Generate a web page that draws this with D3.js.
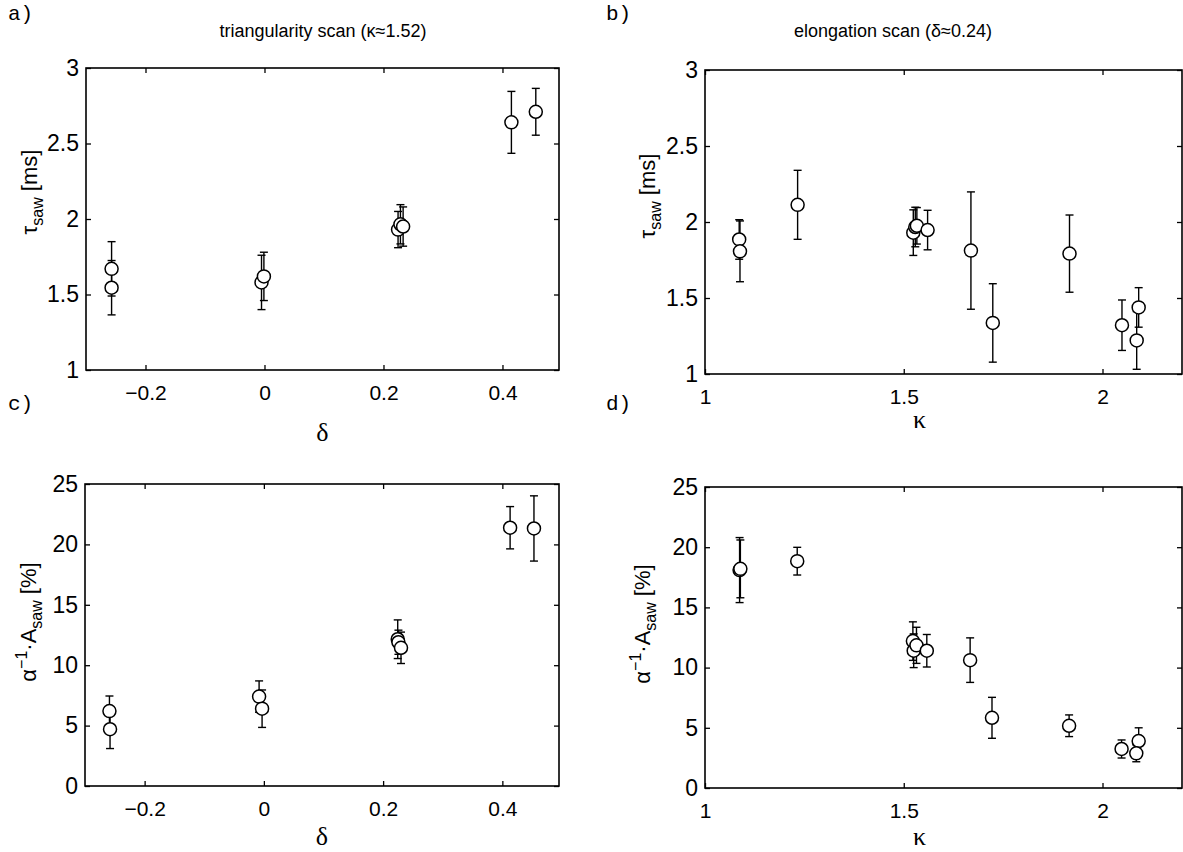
<!DOCTYPE html>
<html>
<head>
<meta charset="utf-8">
<script src="https://cdn.jsdelivr.net/npm/d3@7"></script>
<style>
  body { margin: 0; background: #fff; }
  svg text { fill: #000; }
</style>
</head>
<body>
<svg id="fig" width="1183" height="852"></svg>
<script>
// a) triangularity scan, sawtooth period
const aDelta   = [-0.257, -0.257, -0.005, -0.001, 0.2245, 0.2285, 0.233, 0.415, 0.456];
const aTau     = [1.67, 1.545, 1.58, 1.62, 1.93, 1.965, 1.95, 2.64, 2.71];
const aTauErr  = [0.18, 0.18, 0.18, 0.16, 0.12, 0.13, 0.13, 0.205, 0.155];

// b) elongation scan, sawtooth period
const bKappa   = [1.086, 1.088, 1.233, 1.524, 1.529, 1.533, 1.56, 1.669, 1.724, 1.917, 2.049, 2.091, 2.086];
const bTau     = [1.885, 1.807, 2.113, 1.93, 1.967, 1.975, 1.947, 1.812, 1.336, 1.792, 1.321, 1.438, 1.221];
const bTauErr  = [0.13, 0.2, 0.227, 0.15, 0.13, 0.12, 0.13, 0.386, 0.258, 0.254, 0.166, 0.13, 0.19];

// c) triangularity scan, sawtooth amplitude
const cDelta   = [-0.259, -0.258, -0.008, -0.003, 0.2245, 0.2257, 0.23, 0.413, 0.453];
const cAmp     = [6.2, 4.7, 7.4, 6.4, 12.15, 11.9, 11.44, 21.38, 21.32];
const cAmpErr  = [1.25, 1.6, 1.3, 1.55, 1.6, 1.0, 1.3, 1.75, 2.7];

// d) elongation scan, sawtooth amplitude
const dKappa   = [1.087, 1.089, 1.232, 1.523, 1.525, 1.532, 1.558, 1.667, 1.722, 1.916, 2.048, 2.091, 2.085];
const dAmp     = [18.1, 18.2, 18.84, 12.2, 11.4, 11.85, 11.4, 10.62, 5.83, 5.17, 3.24, 3.9, 2.88];
const dAmpErr  = [2.7, 2.4, 1.15, 1.6, 1.4, 1.5, 1.35, 1.85, 1.7, 0.9, 0.75, 1.1, 0.7];

// tick values
const deltaTicks = [-0.2, 0, 0.2, 0.4];
const kappaTicks = [1, 1.5, 2];
const tauTicks   = [1, 1.5, 2, 2.5, 3];
const ampTicks   = [0, 5, 10, 15, 20, 25];

const svg = d3.select("#fig");
const tickFont = "Liberation Sans, Arial, Helvetica, sans-serif";

function fmtTick(d) {
    return String(d).replace("-", "\u2212");
}

function drawPanel(p) {
    const x = d3.scaleLinear().domain(p.xDomain).range([p.left, p.right]);
    const y = d3.scaleLinear().domain(p.yDomain).range([p.bottom, p.top]);
    const g = svg.append("g");

    // inward ticks on all four sides, MATLAB style
    const xb = g.append("g").attr("transform", `translate(0,${p.bottom})`)
        .call(d3.axisBottom(x).tickValues(p.xTicks).tickSizeInner(-5).tickSizeOuter(0).tickPadding(15).tickFormat(fmtTick));
    const xt = g.append("g").attr("transform", `translate(0,${p.top})`)
        .call(d3.axisTop(x).tickValues(p.xTicks).tickSizeInner(-5).tickSizeOuter(0).tickFormat(""));
    const yl = g.append("g").attr("transform", `translate(${p.left},0)`)
        .call(d3.axisLeft(y).tickValues(p.yTicks).tickSizeInner(-5).tickSizeOuter(0).tickPadding(7).tickFormat(fmtTick));
    const yr = g.append("g").attr("transform", `translate(${p.right},0)`)
        .call(d3.axisRight(y).tickValues(p.yTicks).tickSizeInner(-5).tickSizeOuter(0).tickFormat(""));

    [xb, xt, yl, yr].forEach(a => {
        a.select(".domain").remove();
        a.selectAll("line").attr("stroke", "#000").attr("stroke-width", 1.3);
        a.selectAll("text").attr("font-family", tickFont).attr("fill", "#000");
    });
    xb.selectAll("text").attr("font-size", 21);
    yl.selectAll("text").attr("font-size", 23);

    g.append("rect")
        .attr("x", p.left).attr("y", p.top)
        .attr("width", p.right - p.left).attr("height", p.bottom - p.top)
        .attr("fill", "none").attr("stroke", "#000").attr("stroke-width", 1.6);

    const data = p.xs.map((v, i) => ({x: v, y: p.ys[i], e: p.errs[i]}));

    const bars = g.append("g").selectAll("g").data(data).enter().append("g")
        .attr("stroke", "#000").attr("stroke-width", 1.4);
    bars.append("line")
        .attr("x1", d => x(d.x)).attr("x2", d => x(d.x))
        .attr("y1", d => y(d.y - d.e)).attr("y2", d => y(d.y + d.e));
    bars.append("line")
        .attr("x1", d => x(d.x) - 4).attr("x2", d => x(d.x) + 4)
        .attr("y1", d => y(d.y + d.e)).attr("y2", d => y(d.y + d.e));
    bars.append("line")
        .attr("x1", d => x(d.x) - 4).attr("x2", d => x(d.x) + 4)
        .attr("y1", d => y(d.y - d.e)).attr("y2", d => y(d.y - d.e));

    g.append("g").selectAll("circle").data(data).enter().append("circle")
        .attr("cx", d => x(d.x)).attr("cy", d => y(d.y)).attr("r", 6.5)
        .attr("fill", "#fff").attr("stroke", "#000").attr("stroke-width", 1.5);

    // panel letter
    svg.append("text").attr("x", p.letterX).attr("y", p.letterY)
        .attr("font-family", "Liberation Mono, Courier New, monospace").attr("font-size", 21)
        .text(p.letter);

    // x label
    svg.append("text").attr("x", (p.left + p.right) / 2 - p.xLabelShift).attr("y", p.xLabelY)
        .attr("text-anchor", "middle")
        .attr("font-family", "Liberation Serif, Times New Roman, serif").attr("font-size", 26)
        .text(p.xLabel);

    // y label
    const yt = svg.append("text")
        .attr("transform", `translate(${p.yLabelX},${p.yLabelY}) rotate(-90)`)
        .attr("text-anchor", "middle")
        .attr("font-family", tickFont).attr("font-size", 22);
    p.yLabel(yt);

    if (p.title) {
        svg.append("text").attr("x", p.titleX).attr("y", 37)
            .attr("text-anchor", "middle")
            .attr("font-family", tickFont).attr("font-size", 18)
            .text(p.title);
    }
}

function tauLabel(t) {
    t.append("tspan").text("\u03c4");
    t.append("tspan").attr("font-size", 16).attr("dy", 6).text("saw");
    t.append("tspan").attr("dy", -6).text(" [ms]");
}

function ampLabel(t) {
    t.append("tspan").text("\u03b1");
    t.append("tspan").attr("font-size", 16).attr("dy", -9).text("\u22121");
    t.append("tspan").attr("dy", 9).text("\u00b7A");
    t.append("tspan").attr("font-size", 16).attr("dy", 6).text("saw");
    t.append("tspan").attr("dy", -6).text(" [%]");
}

drawPanel({
    left: 86, right: 559, top: 68, bottom: 370,
    xDomain: [-0.3, 0.495], yDomain: [1, 3],
    xTicks: deltaTicks, yTicks: tauTicks,
    xs: aDelta, ys: aTau, errs: aTauErr,
    letter: "a)", letterX: 8, letterY: 20,
    title: "triangularity scan (\u03ba\u22481.52)", titleX: 323,
    xLabel: "\u03b4", xLabelY: 441, xLabelShift: 0,
    yLabelX: 37, yLabelY: 192, yLabel: tauLabel
});

drawPanel({
    left: 705, right: 1182, top: 70, bottom: 374,
    xDomain: [1, 2.2], yDomain: [1, 3],
    xTicks: kappaTicks, yTicks: tauTicks,
    xs: bKappa, ys: bTau, errs: bTauErr,
    letter: "b)", letterX: 606, letterY: 20,
    title: "elongation scan (\u03b4\u22480.24)", titleX: 893,
    xLabel: "\u03ba", xLabelY: 428, xLabelShift: 24,
    yLabelX: 655, yLabelY: 196, yLabel: tauLabel
});

drawPanel({
    left: 85, right: 559, top: 484, bottom: 786,
    xDomain: [-0.3, 0.495], yDomain: [0, 25],
    xTicks: deltaTicks, yTicks: ampTicks,
    xs: cDelta, ys: cAmp, errs: cAmpErr,
    letter: "c)", letterX: 8, letterY: 410,
    title: null,
    xLabel: "\u03b4", xLabelY: 845, xLabelShift: 0,
    yLabelX: 36, yLabelY: 622, yLabel: ampLabel
});

drawPanel({
    left: 705, right: 1182, top: 487, bottom: 788,
    xDomain: [1, 2.2], yDomain: [0, 25],
    xTicks: kappaTicks, yTicks: ampTicks,
    xs: dKappa, ys: dAmp, errs: dAmpErr,
    letter: "d)", letterX: 606, letterY: 410,
    title: null,
    xLabel: "\u03ba", xLabelY: 845, xLabelShift: 24,
    yLabelX: 650, yLabelY: 624, yLabel: ampLabel
});
</script>
</body>
</html>
